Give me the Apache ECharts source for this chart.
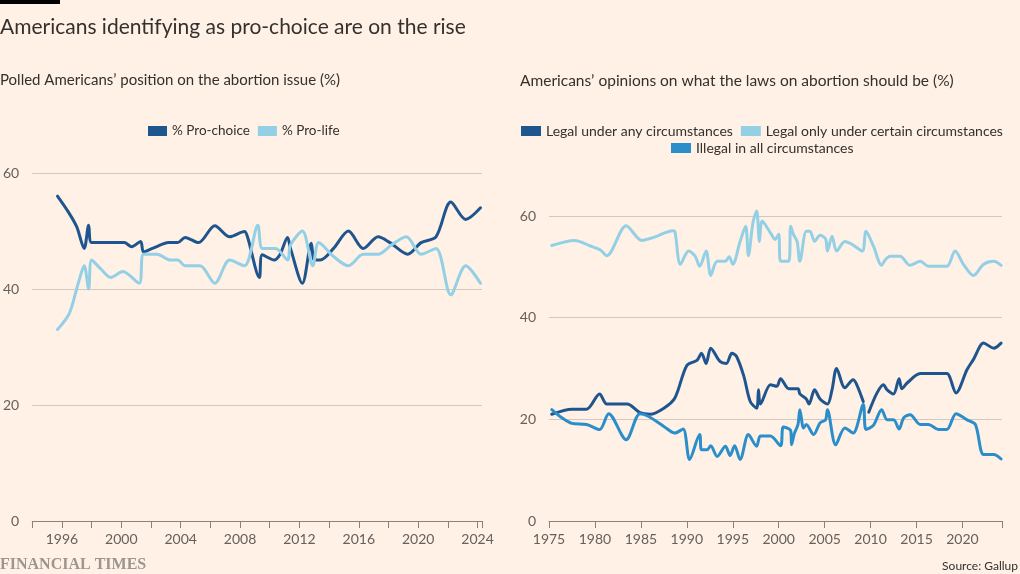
<!DOCTYPE html>
<html>
<head>
<meta charset="utf-8">
<script src="https://cdn.jsdelivr.net/npm/echarts@6/dist/echarts.min.js"></script>
<style>
html,body{margin:0;padding:0;background:#fff1e5;}
#chart{width:1020px;height:574px;}
</style>
</head>
<body>
<div id="chart"></div>
<script>
// ---- Left panel: pro-choice / pro-life (%)
var choiceYears = [1995.7, 1996.5, 1997.0, 1997.5, 1997.8, 1998.0, 1999.0, 2000.2, 2000.7, 2001.3, 2001.5, 2002.1, 2003.2, 2003.8, 2004.3, 2005.2, 2006.3, 2007.3, 2008.3, 2008.5, 2009.3, 2009.5, 2010.3, 2010.7, 2011.2, 2011.4, 2012.2, 2012.8, 2013.0, 2013.4, 2014.3, 2015.3, 2016.3, 2017.3, 2018.1, 2019.3, 2020.2, 2021.2, 2022.2, 2023.2, 2024.2];
var proChoice   = [56, 53, 50.7, 47, 51, 48, 48, 48, 47.3, 48.2, 46.4, 47, 48, 48, 48.9, 48, 50.9, 49, 49.9, 49, 42, 45.9, 45, 46, 48.9, 47, 41, 47.9, 45, 45, 47, 50, 47, 49, 48, 46, 48, 49, 55, 52, 54];
var lifeYears = [1995.7, 1996.5, 1997.1, 1997.5, 1997.8, 1998.0, 1998.6, 1999.3, 2000.1, 2001.2, 2001.5, 2002.4, 2003.3, 2003.8, 2004.3, 2005.3, 2006.3, 2007.3, 2008.3, 2009.2, 2009.5, 2010.4, 2011.2, 2011.4, 2012.2, 2012.9, 2013.3, 2014.3, 2015.3, 2016.3, 2017.3, 2018.2, 2019.2, 2020.2, 2021.2, 2022.2, 2023.2, 2024.2];
var proLife   = [33, 35.8, 41, 44, 40, 45, 43.5, 42, 43, 41, 46, 46, 45, 45, 44, 44, 41, 45, 44, 51, 47, 47, 45, 47.6, 50, 44, 48, 45.6, 44, 46, 46, 47.6, 49, 46, 47, 39, 44, 41];

// ---- Right panel: what the laws should be (%)
var anyYears = [1975.3, 1977.5, 1979.1, 1980.5, 1981.3, 1983.5, 1984.9, 1986.0, 1987.5, 1988.7, 1990.0, 1991.1, 1991.6, 1992.1, 1992.6, 1993.6, 1994.3, 1994.9, 1995.4, 1996.2, 1996.9, 1997.6, 1997.8, 1998.0, 1999.1, 1999.8, 2000.2, 2001.1, 2002.1, 2002.3, 2003.0, 2003.3, 2003.9, 2004.5, 2005.3, 2005.8, 2006.3, 2007.2, 2008.1, 2008.5, 2009.2, 2009.5, 2009.8, 2010.7, 2011.4, 2011.8, 2012.5, 2013.1, 2013.4, 2014.0, 2015.4, 2016.3, 2017.3, 2018.3, 2019.3, 2020.5, 2021.2, 2022.3, 2023.4, 2024.2];
var legalAny = [21, 22, 22, 25, 23, 23, 21.3, 21, 22.2, 24.2, 30.6, 31.6, 33, 31, 34, 31.4, 31, 33, 32.4, 28.5, 23.5, 22.2, 25.8, 23, 26.8, 26.5, 28, 26, 26, 25, 24, 23, 25.8, 24, 23, 25.8, 30, 26.2, 27.8, 26.8, 23.5, null, 21.4, 25.2, 26.8, 25.8, 25, 28, 26, 27.2, 29, 29, 29, 29, 25.2, 29.8, 31.8, 35, 34, 35];
var certainYears = [1975.3, 1977.8, 1979.5, 1980.6, 1981.3, 1983.4, 1985.1, 1986.4, 1988.5, 1988.7, 1989.3, 1990.2, 1990.9, 1991.4, 1992.1, 1992.6, 1993.3, 1994.2, 1994.6, 1995.0, 1995.8, 1996.4, 1996.7, 1997.2, 1997.6, 1997.9, 1998.2, 1999.1, 1999.6, 2000.0, 2000.2, 2001.1, 2001.3, 2001.6, 2002.0, 2002.3, 2003.0, 2003.4, 2003.9, 2004.5, 2005.1, 2005.3, 2005.8, 2006.3, 2007.2, 2008.0, 2009.1, 2009.5, 2010.3, 2011.2, 2011.6, 2012.1, 2013.2, 2014.3, 2015.4, 2016.3, 2017.3, 2018.3, 2019.2, 2020.1, 2021.2, 2022.3, 2023.4, 2024.2];
var legalCertain = [54.2, 55.2, 54.1, 53.3, 52.2, 58.1, 55.2, 55.8, 57.1, 57, 50.5, 53.1, 52.1, 50.1, 53.1, 48.3, 51.1, 51.1, 52, 50.5, 55, 58, 52.2, 58.7, 61, 55, 59, 56.7, 55.4, 56.4, 51.1, 51.1, 58, 56.4, 55, 51.1, 57, 57, 55, 56.2, 55.5, 53.1, 56, 53.1, 55, 54.4, 53.1, 57, 54.1, 50.3, 51.4, 52.1, 52.1, 50.3, 51.1, 50.1, 50.1, 50.1, 53.1, 50.5, 48.3, 50.5, 51.1, 50.3];
var illegalYears = [1975.3, 1976.4, 1977.5, 1979.1, 1980.5, 1981.5, 1983.4, 1984.9, 1985.8, 1987.5, 1988.7, 1989.6, 1990.3, 1991.4, 1991.6, 1992.2, 1992.6, 1993.3, 1994.2, 1994.7, 1995.2, 1995.8, 1996.7, 1997.6, 1998.0, 1999.1, 2000.2, 2000.5, 2001.3, 2001.4, 2001.7, 2002.1, 2002.3, 2002.7, 2003.0, 2003.8, 2004.5, 2005.1, 2005.3, 2006.2, 2007.2, 2008.1, 2009.2, 2009.5, 2010.3, 2011.2, 2011.8, 2012.5, 2013.1, 2013.6, 2014.3, 2015.4, 2016.3, 2017.4, 2018.3, 2019.3, 2020.5, 2021.4, 2022.3, 2023.4, 2024.2];
var illegalAll = [21.9, 20.3, 19.2, 19, 18, 21.1, 16, 21.1, 20.6, 18.6, 17.3, 18.1, 12.1, 17, 14, 14, 14.8, 12.7, 14.7, 12.9, 14.8, 12.1, 17, 14.7, 16.7, 16.7, 14.8, 18.5, 17.8, 15, 17.2, 19, 21.9, 18.3, 19, 17, 19.3, 19.9, 21.9, 15, 18.3, 17.3, 22.9, 18, 18.8, 21.9, 19.9, 19.9, 18.1, 20.3, 20.9, 19, 19, 18, 18, 21.1, 19.9, 19, 13.1, 13.1, 12.2];

var leftNames = ['% Pro-choice', '% Pro-life'];
var rightNames = ['Legal under any circumstances', 'Legal only under certain circumstances', 'Illegal in all circumstances'];
var yTicks = [0, 20, 40, 60];

function zip(xs, ys) { return xs.map(function (x, i) { return [x, ys[i] === null ? '-' : ys[i]]; }); }

var FONT = 'Lato';
var TXT = '#33302e';
var LBL = '#66605c';
var GRID = '#d4c7bc';
var AXIS = '#8a817a';
var C_DARK = '#1f558e';
var C_LIGHT = '#93d0e6';
var C_MID = '#2b8dc9';

function xAxisCfg(grid, min, max, interval, every) {
  return {
    type: 'value', gridIndex: grid, min: min, max: max, interval: interval,
    axisLine: { show: true, lineStyle: { color: AXIS, width: 1 } },
    axisTick: { show: true, length: 7, lineStyle: { color: AXIS } },
    splitLine: { show: false },
    axisLabel: {
      margin: 11, fontFamily: FONT, fontSize: 14, color: LBL,
      formatter: function (v) { return (Number.isInteger(v) && v % every === 0) ? String(v) : ''; }
    }
  };
}
function yAxisCfg(grid) {
  return {
    type: 'value', gridIndex: grid, min: yTicks[0], max: yTicks[yTicks.length - 1], interval: 20,
    axisLine: { show: false }, axisTick: { show: false },
    splitLine: { show: true, lineStyle: { color: GRID, width: 1 } },
    axisLabel: { margin: 13, fontFamily: FONT, fontSize: 14, color: LBL }
  };
}
function lineSeries(name, data, color, xi, z) {
  return {
    name: name, type: 'line', data: data, xAxisIndex: xi, yAxisIndex: xi,
    showSymbol: false, symbol: 'none', smooth: 0.3, clip: false, connectNulls: false, z: z,
    lineStyle: { color: color, width: 3, cap: 'round', join: 'round' },
    itemStyle: { color: color },
    emphasis: { disabled: true }
  };
}

var chart = echarts.init(document.getElementById('chart'), null, { renderer: 'canvas' });
chart.setOption({
  backgroundColor: '#fff1e5',
  animation: false,
  textStyle: { fontFamily: FONT },
  graphic: [{ type: 'rect', left: 0, top: 0, shape: { width: 60, height: 4 }, style: { fill: '#000' } }],
  title: [
    { text: 'Americans identifying as pro-choice are on the rise', left: 0, top: 17, padding: 0,
      textStyle: { fontFamily: FONT, fontSize: 21, fontWeight: 'normal', color: TXT } },
    { text: 'Polled Americans’ position on the abortion issue (%)', left: 0, top: 73, padding: 0,
      textStyle: { fontFamily: FONT, fontSize: 15, fontWeight: 'normal', color: TXT } },
    { text: 'Americans’ opinions on what the laws on abortion should be (%)', left: 520, top: 73, padding: 0,
      textStyle: { fontFamily: FONT, fontSize: 15.5, fontWeight: 'normal', color: TXT } },
    { text: 'FINANCIAL TIMES', left: 0, top: 557, padding: 0,
      textStyle: { fontFamily: 'Liberation Serif', fontSize: 16, fontWeight: 'bold', color: '#9d958e' } },
    { text: 'Source: Gallup', right: 2, top: 560, padding: 0,
      textStyle: { fontFamily: FONT, fontSize: 12, fontWeight: 'normal', color: TXT } }
  ],
  legend: [
    { data: leftNames, left: 148, top: 124, padding: 0, icon: 'rect', itemWidth: 19, itemHeight: 10, itemGap: 8,
      selectedMode: false, textStyle: { fontFamily: FONT, fontSize: 13.5, color: TXT } },
    { data: rightNames.slice(0, 2), left: 521, top: 124, padding: 0, icon: 'rect', itemWidth: 20, itemHeight: 10, itemGap: 8,
      selectedMode: false, textStyle: { fontFamily: FONT, fontSize: 14, color: TXT } },
    { data: rightNames.slice(2), left: 671, top: 141, padding: 0, icon: 'rect', itemWidth: 20, itemHeight: 10, itemGap: 8,
      selectedMode: false, textStyle: { fontFamily: FONT, fontSize: 14, color: TXT } }
  ],
  grid: [
    { left: 29, right: 538, top: 173, bottom: 53 },
    { left: 549, right: 18, top: 216, bottom: 53 }
  ],
  xAxis: [ xAxisCfg(0, 1994, 2024.3, 2, 4), xAxisCfg(1, 1975, 2024.3, 5, 5) ],
  yAxis: [ yAxisCfg(0), yAxisCfg(1) ],
  series: [
    lineSeries(leftNames[0], zip(choiceYears, proChoice), C_DARK, 0, 2),
    lineSeries(leftNames[1], zip(lifeYears, proLife), C_LIGHT, 0, 3),
    lineSeries(rightNames[0], zip(anyYears, legalAny), C_DARK, 1, 2),
    lineSeries(rightNames[1], zip(certainYears, legalCertain), C_LIGHT, 1, 3),
    lineSeries(rightNames[2], zip(illegalYears, illegalAll), C_MID, 1, 4)
  ]
});
</script>
</body>
</html>
